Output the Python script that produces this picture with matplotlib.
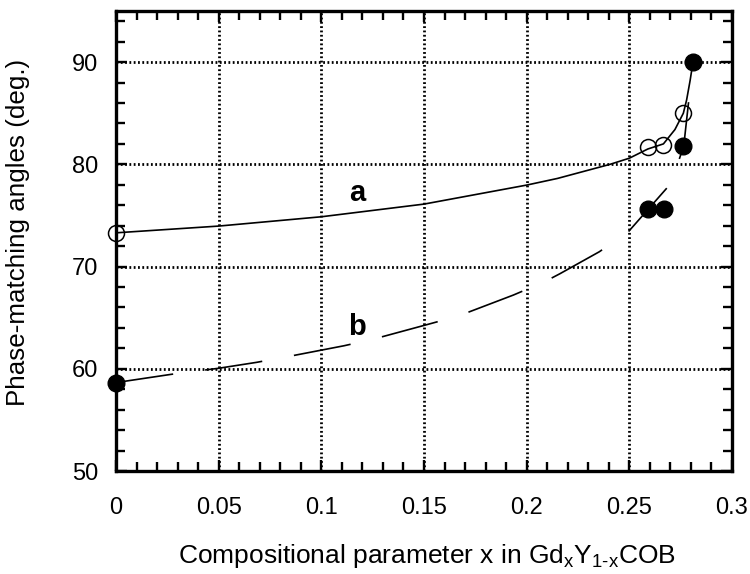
import matplotlib
matplotlib.use("Agg")
import matplotlib.pyplot as plt
from matplotlib.ticker import MultipleLocator, FixedLocator

# ---------------- data ----------------
# theoretical curve a (solid)
curve_a_x = [0.0, 0.05, 0.1, 0.15, 0.2, 0.215, 0.2406, 0.25, 0.259, 0.2666,
             0.2722, 0.2763, 0.2779, 0.2796, 0.281]
curve_a_y = [73.3, 73.96, 74.87, 76.11, 77.97, 78.62, 80.0, 80.6, 81.5, 82.0,
             83.4, 85.0, 86.3, 88.2, 90.0]

# theoretical curve b (long dashes)
curve_b_x = [0.0, 0.027, 0.05, 0.0685, 0.0834, 0.111, 0.125, 0.152, 0.1667,
             0.1935, 0.2086, 0.2162, 0.2354, 0.2495, 0.2703, 0.2765, 0.281]
curve_b_y = [58.65, 59.46, 60.05, 60.63, 61.18, 62.25, 62.88, 64.35, 65.16,
             67.21, 68.5, 69.3, 71.45, 73.4, 78.14, 81.8, 90.0]

# measured points
open_x = [0.0, 0.259, 0.2666, 0.2763]
open_y = [73.3, 81.7, 81.9, 85.0]
filled_x = [0.0, 0.259, 0.2669, 0.276, 0.281]
filled_y = [58.65, 75.6, 75.6, 81.8, 90.0]

# labels
label_a = ("a", 0.1175, 77.2)
label_b = ("b", 0.1172, 64.1)

x_ticks = [0, 0.05, 0.1, 0.15, 0.2, 0.25, 0.3]
x_tick_labels = ["0", "0.05", "0.1", "0.15", "0.2", "0.25", "0.3"]
y_ticks = [50, 60, 70, 80, 90]
y_tick_labels = ["50", "60", "70", "80", "90"]

# ---------------- styling ----------------
plt.rcParams['font.family'] = ['Liberation Sans', 'DejaVu Sans']
plt.rcParams['mathtext.fontset'] = 'custom'
plt.rcParams['mathtext.rm'] = 'Liberation Sans'
plt.rcParams['lines.scale_dashes'] = False

fig = plt.figure(figsize=(7.5, 5.74), dpi=100)
ax = fig.add_axes([116/750, 1 - 471/574, (732 - 116)/750, (471 - 11)/574])

ax.set_xlim(0, 0.3)
ax.set_ylim(50, 95)

# grid
for gx in x_ticks[1:-1]:
    ax.axvline(gx, color='black', lw=2.0, ls=(0, (1.3, 1.8)), zorder=1)
for gy in y_ticks[1:]:
    ax.axhline(gy, color='black', lw=2.0, ls=(0, (1.3, 1.8)), zorder=1)

# curves
ax.plot(curve_a_x, curve_a_y, color='black', lw=1.2, zorder=3)
ax.plot(curve_b_x, curve_b_y, color='black', lw=1.2, ls=(0, (41.6, 23.2)), zorder=3)

# markers
ax.plot(open_x, open_y, 'o', ms=11.5, mfc='none', mec='black', mew=1.1,
        zorder=4, clip_on=False)
ax.plot(filled_x, filled_y, 'o', ms=12, mfc='black', mec='black',
        zorder=4, clip_on=False)

for t, x, y in (label_a, label_b):
    ax.text(x, y, t, fontsize=21, fontweight='bold', ha='center', va='center',
            zorder=5)

# ticks
ax.xaxis.set_major_locator(FixedLocator(x_ticks))
ax.set_xticklabels(x_tick_labels)
ax.xaxis.set_minor_locator(MultipleLocator(0.01))
ax.yaxis.set_major_locator(FixedLocator(y_ticks))
ax.set_yticklabels(y_tick_labels)
ax.yaxis.set_minor_locator(MultipleLocator(2))
ax.tick_params(which='both', direction='in', top=True, right=True,
               width=1.7, color='black')
ax.tick_params(which='major', length=8, labelsize=17)
ax.tick_params(which='minor', length=6.5)
ax.tick_params(axis='x', which='major', pad=19)
ax.tick_params(axis='y', which='major', pad=13)

for sp in ax.spines.values():
    sp.set_linewidth(2.4)
    sp.set_zorder(6)

ax.set_xlabel(r"Compositional parameter x in Gd$_\mathregular{x}$Y$_\mathregular{1\text{-}x}$COB",
              fontsize=19, va='center')
ax.xaxis.set_label_coords(0.504, -(556 - 471)/460)
ax.set_ylabel("Phase-matching angles (deg.)", fontsize=18.7, va='center')
ax.yaxis.set_label_coords(-(116 - 18)/616, 0.518)

fig.savefig("out.png", dpi=100)
